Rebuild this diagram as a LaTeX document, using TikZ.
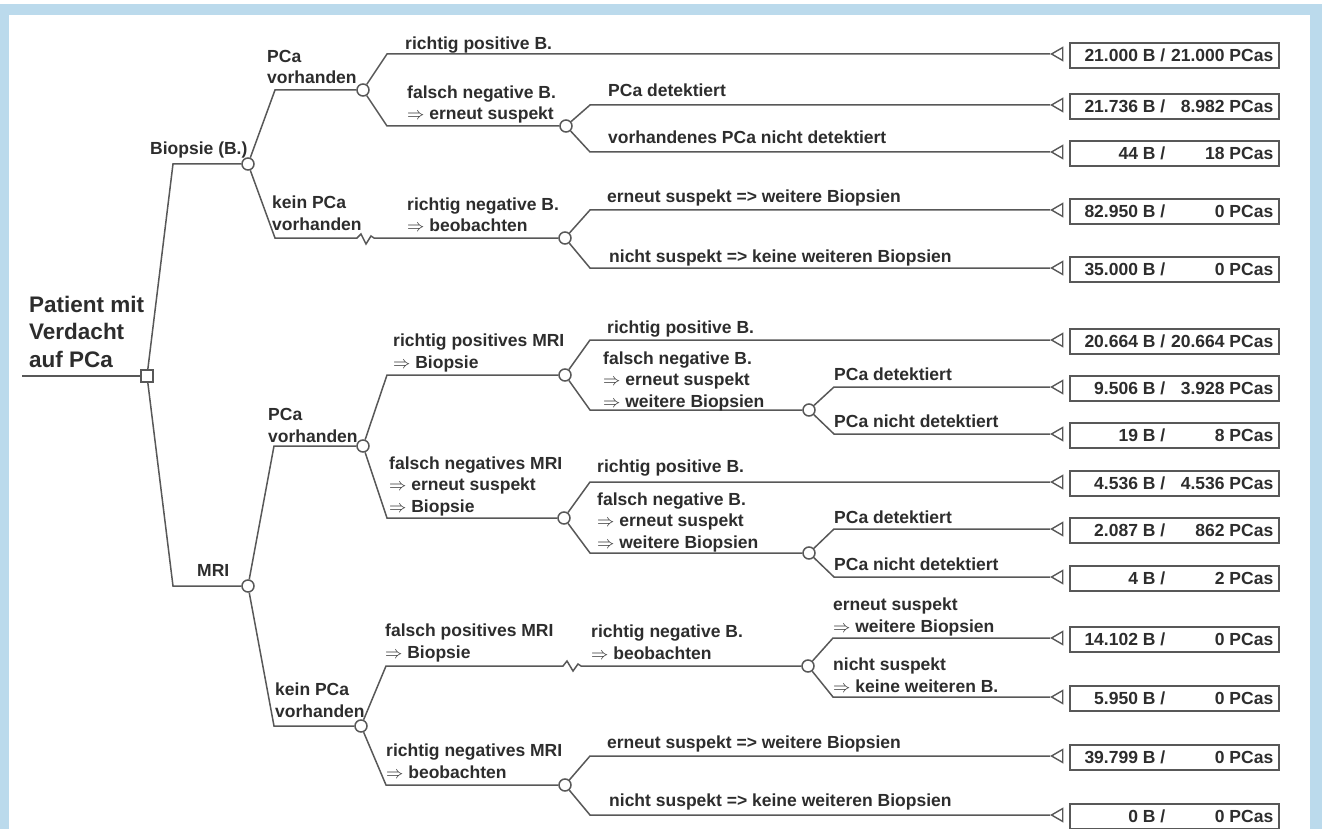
\documentclass[tikz,border=0pt]{standalone}
\usepackage{fontspec}
\setmainfont{Liberation Sans}
\usepackage{tikz}
\usetikzlibrary{positioning,shapes.geometric}
\definecolor{frameblue}{RGB}{187,218,236}
\definecolor{linegray}{RGB}{88,88,88}
\definecolor{textgray}{RGB}{45,45,45}

\begin{document}
\begin{tikzpicture}[
  x=1pt, y=-1pt,
  font=\bfseries\fontsize{17.5}{21.5}\selectfont,
  text=textgray,
  br/.style={draw=linegray, line width=1.5pt},
  chance/.style={
    circle, draw=linegray, line width=1.5pt, fill=white,
    minimum size=12pt, inner sep=0pt
  },
  choice/.style={
    rectangle, draw=linegray, line width=1.5pt, fill=white,
    minimum size=12pt, inner sep=0pt
  },
  endmark/.style={
    regular polygon, regular polygon sides=3, shape border rotate=90,
    draw=linegray, line width=1.4pt, fill=white, minimum size=15pt, inner sep=0pt
  },
  res/.style={
    rectangle, draw=linegray, line width=1.5pt, anchor=west, yshift=-1.5pt,
    minimum height=25pt, inner xsep=5.5pt, inner ysep=0pt
  },
  lbl/.style={anchor=base west, align=left, inner sep=0pt}
]

% frame
\useasboundingbox (0,0) rectangle (1322,829);
\fill[white] (0,0) rectangle (1322,829);
\fill[frameblue] (0,4) rectangle (1322,829);
\fill[white] (9,15) rectangle (1310,829);

% decision and chance nodes
\coordinate (start) at (22,376);
\node[choice] (d0) at (147,376) {};
\node[chance] (cBio) at (248,164) {};
\node[chance] (cMRI) at (248,586) {};
\node[chance] (cBpos) at (363,90) {};
\node[chance] (cBneg) at (565,238) {};
\node[chance] (cBfn) at (566,126) {};
\node[chance] (cMpos) at (363,446) {};
\node[chance] (cMneg) at (361,726) {};
\node[chance] (cMrp) at (565,375) {};
\node[chance] (cMfn) at (564,518) {};
\node[chance] (cMrpB) at (809,410) {};
\node[chance] (cMfnB) at (809,553) {};
\node[chance] (cMfp) at (808,666) {};
\node[chance] (cMrn) at (565,785) {};

% results
\node[res] (r1) at (1069,54) {\makebox[90pt][r]{21.000 B /}\makebox[108pt][r]{21.000 PCas}};
\node[res] (r2) at (1069,105) {\makebox[90pt][r]{21.736 B /}\makebox[108pt][r]{8.982 PCas}};
\node[res] (r3) at (1069,152) {\makebox[90pt][r]{44 B /}\makebox[108pt][r]{18 PCas}};
\node[res] (r4) at (1069,210) {\makebox[90pt][r]{82.950 B /}\makebox[108pt][r]{0 PCas}};
\node[res] (r5) at (1069,268) {\makebox[90pt][r]{35.000 B /}\makebox[108pt][r]{0 PCas}};
\node[res] (r6) at (1069,340) {\makebox[90pt][r]{20.664 B /}\makebox[108pt][r]{20.664 PCas}};
\node[res] (r7) at (1069,387) {\makebox[90pt][r]{9.506 B /}\makebox[108pt][r]{3.928 PCas}};
\node[res] (r8) at (1069,434) {\makebox[90pt][r]{19 B /}\makebox[108pt][r]{8 PCas}};
\node[res] (r9) at (1069,482) {\makebox[90pt][r]{4.536 B /}\makebox[108pt][r]{4.536 PCas}};
\node[res] (r10) at (1069,529) {\makebox[90pt][r]{2.087 B /}\makebox[108pt][r]{862 PCas}};
\node[res] (r11) at (1069,577) {\makebox[90pt][r]{4 B /}\makebox[108pt][r]{2 PCas}};
\node[res] (r12) at (1069,638) {\makebox[90pt][r]{14.102 B /}\makebox[108pt][r]{0 PCas}};
\node[res] (r13) at (1069,697) {\makebox[90pt][r]{5.950 B /}\makebox[108pt][r]{0 PCas}};
\node[res] (r14) at (1069,756) {\makebox[90pt][r]{39.799 B /}\makebox[108pt][r]{0 PCas}};
\node[res] (r15) at (1069,815) {\makebox[90pt][r]{0 B /}\makebox[108pt][r]{0 PCas}};

\node[endmark] (e1) at (1059,54) {};
\node[endmark] (e2) at (1059,105) {};
\node[endmark] (e3) at (1059,152) {};
\node[endmark] (e4) at (1059,210) {};
\node[endmark] (e5) at (1059,268) {};
\node[endmark] (e6) at (1059,340) {};
\node[endmark] (e7) at (1059,387) {};
\node[endmark] (e8) at (1059,434) {};
\node[endmark] (e9) at (1059,482) {};
\node[endmark] (e10) at (1059,529) {};
\node[endmark] (e11) at (1059,577) {};
\node[endmark] (e12) at (1059,638) {};
\node[endmark] (e13) at (1059,697) {};
\node[endmark] (e14) at (1059,756) {};
\node[endmark] (e15) at (1059,815) {};

% branches
\draw[br] (start) -- (d0);
\draw[br] (d0) -- ([xshift=26pt]d0.center |- cBio) -- (cBio);
\draw[br] (d0) -- ([xshift=26pt]d0.center |- cMRI) -- (cMRI);

\draw[br] (cBio) -- ([xshift=27pt]cBio.center |- cBpos) -- (cBpos);
\draw[br] (cBio) -- ([xshift=27pt]cBio.center |- cBneg) -- ([xshift=-208pt]cBneg.center)
  -- ++(4,-4) -- ++(5,10) -- ++(5,-8) -- ++(3,2) -- (cBneg);
\draw[br] (cBpos) -- ([xshift=24pt]cBpos.center |- e1) -- (e1);
\draw[br] (cBpos) -- ([xshift=24pt]cBpos.center |- cBfn) -- (cBfn);
\draw[br] (cBfn) -- ([xshift=24pt]cBfn.center |- e2) -- (e2);
\draw[br] (cBfn) -- ([xshift=24pt]cBfn.center |- e3) -- (e3);
\draw[br] (cBneg) -- ([xshift=25pt]cBneg.center |- e4) -- (e4);
\draw[br] (cBneg) -- ([xshift=25pt]cBneg.center |- e5) -- (e5);

\draw[br] (cMRI) -- ([xshift=26pt]cMRI.center |- cMpos) -- (cMpos);
\draw[br] (cMRI) -- ([xshift=26pt]cMRI.center |- cMneg) -- (cMneg);
\draw[br] (cMpos) -- ([xshift=24pt]cMpos.center |- cMrp) -- (cMrp);
\draw[br] (cMpos) -- ([xshift=24pt]cMpos.center |- cMfn) -- (cMfn);
\draw[br] (cMrp) -- ([xshift=25pt]cMrp.center |- e6) -- (e6);
\draw[br] (cMrp) -- ([xshift=25pt]cMrp.center |- cMrpB) -- (cMrpB);
\draw[br] (cMrpB) -- ([xshift=25pt]cMrpB.center |- e7) -- (e7);
\draw[br] (cMrpB) -- ([xshift=25pt]cMrpB.center |- e8) -- (e8);
\draw[br] (cMfn) -- ([xshift=26pt]cMfn.center |- e9) -- (e9);
\draw[br] (cMfn) -- ([xshift=26pt]cMfn.center |- cMfnB) -- (cMfnB);
\draw[br] (cMfnB) -- ([xshift=25pt]cMfnB.center |- e10) -- (e10);
\draw[br] (cMfnB) -- ([xshift=25pt]cMfnB.center |- e11) -- (e11);

\draw[br] (cMneg) -- ([xshift=25pt]cMneg.center |- cMfp) -- ([xshift=-245pt]cMfp.center)
  -- ++(4,-5) -- ++(6,10) -- ++(5,-7) -- ++(3,2) -- (cMfp);
\draw[br] (cMneg) -- ([xshift=25pt]cMneg.center |- cMrn) -- (cMrn);
\draw[br] (cMfp) -- ([xshift=25pt]cMfp.center |- e12) -- (e12);
\draw[br] (cMfp) -- ([xshift=25pt]cMfp.center |- e13) -- (e13);
\draw[br] (cMrn) -- ([xshift=25pt]cMrn.center |- e14) -- (e14);
\draw[br] (cMrn) -- ([xshift=25pt]cMrn.center |- e15) -- (e15);

% labels
\node[lbl, font=\bfseries\fontsize{22.5}{27.5}\selectfont] (lroot) at (29,367) {Patient mit\\Verdacht\\auf PCa};
\node[lbl] (lBio) at (150,155) {Biopsie (B.)};
\node[lbl] (lBpos) at (267,84) {PCa\\vorhanden};
\node[lbl] (lBneg) at (272,230) {kein PCa\\vorhanden};
\node[lbl] (l1) at (405,50) {richtig positive B.};
\node[lbl] (lBfn) at (407,120) {falsch negative B.\\$\Rightarrow$ erneut suspekt};
\node[lbl] (l2) at (608,97) {PCa detektiert};
\node[lbl] (l3) at (608,144) {vorhandenes PCa nicht detektiert};
\node[lbl] (lBrn) at (407,232) {richtig negative B.\\$\Rightarrow$ beobachten};
\node[lbl] (l4) at (607,203) {erneut suspekt => weitere Biopsien};
\node[lbl] (l5) at (609,262) {nicht suspekt => keine weiteren Biopsien};

\node[lbl] (lMRI) at (197,576) {MRI};
\node[lbl] (lMpos) at (268,442) {PCa\\vorhanden};
\node[lbl] (lMneg) at (275,717) {kein PCa\\vorhanden};
\node[lbl] (lMrp) at (393,368) {richtig positives MRI\\$\Rightarrow$ Biopsie};
\node[lbl] (lMfn) at (389,512) {falsch negatives MRI\\$\Rightarrow$ erneut suspekt\\$\Rightarrow$ Biopsie};
\node[lbl] (l6) at (607,333) {richtig positive B.};
\node[lbl] (lMrpB) at (603,407) {falsch negative B.\\$\Rightarrow$ erneut suspekt\\$\Rightarrow$ weitere Biopsien};
\node[lbl] (l7) at (834,380) {PCa detektiert};
\node[lbl] (l8) at (834,427) {PCa nicht detektiert};
\node[lbl] (l9) at (597,472) {richtig positive B.};
\node[lbl] (lMfnB) at (597,548) {falsch negative B.\\$\Rightarrow$ erneut suspekt\\$\Rightarrow$ weitere Biopsien};
\node[lbl] (l10) at (834,523) {PCa detektiert};
\node[lbl] (l11) at (834,570) {PCa nicht detektiert};
\node[lbl] (lMfp) at (385,658) {falsch positives MRI\\$\Rightarrow$ Biopsie};
\node[lbl] (lMfpB) at (591,659) {richtig negative B.\\$\Rightarrow$ beobachten};
\node[lbl] (l12) at (833,632) {erneut suspekt\\$\Rightarrow$ weitere Biopsien};
\node[lbl] (l13) at (833,692) {nicht suspekt\\$\Rightarrow$ keine weiteren B.};
\node[lbl] (lMrn) at (386,778) {richtig negatives MRI\\$\Rightarrow$ beobachten};
\node[lbl] (l14) at (607,748) {erneut suspekt => weitere Biopsien};
\node[lbl] (l15) at (609,806) {nicht suspekt => keine weiteren Biopsien};

\end{tikzpicture}
\end{document}
